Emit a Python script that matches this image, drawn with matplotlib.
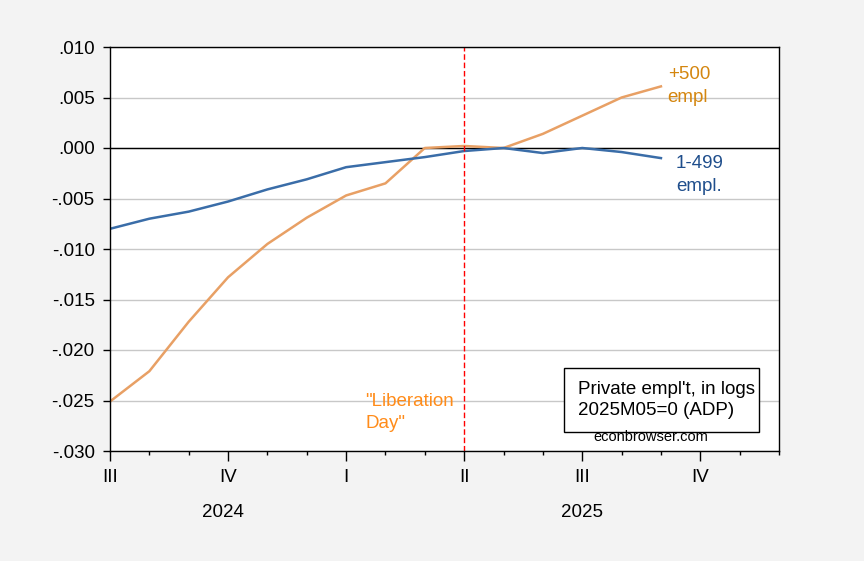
import numpy as np
import matplotlib
matplotlib.use("Agg")
from matplotlib import pyplot as plt
from matplotlib import transforms
from matplotlib.patches import Rectangle

plt.rcParams['font.family'] = ['Liberation Sans', 'DejaVu Sans']

# monthly, 2024M07 .. 2025M09, log employment relative to 2025M05
months = ['2024M07', '2024M08', '2024M09', '2024M10', '2024M11', '2024M12',
          '2025M01', '2025M02', '2025M03', '2025M04', '2025M05', '2025M06',
          '2025M07', '2025M08', '2025M09']
small = [-0.0080, -0.0070, -0.0063, -0.0053, -0.0041, -0.0031, -0.0019, -0.0014,
         -0.0009, -0.0003, 0.0000, -0.0005, 0.0000, -0.0004, -0.0010]
large = [-0.0251, -0.0221, -0.0172, -0.0128, -0.0095, -0.0069, -0.0047, -0.0035,
         0.0000, 0.0002, 0.0000, 0.0014, 0.0032, 0.0050, 0.0061]

quarter_labels = ['III', 'IV', 'I', 'II', 'III', 'IV']
year_labels = ['2024', '2025']
year_pos = [2.88, 12.0]   # month index under which the year label sits
liberation_day = 9        # 2025M04

x = np.arange(len(months))

fig = plt.figure(figsize=(8.64, 5.61), dpi=100, facecolor='#F3F3F3')
ax = fig.add_axes([110 / 864, 1 - 451 / 561, 669 / 864, 404 / 561])
ax.set_facecolor('white')

ax.plot(x, large, color='#E8A065', lw=1.8)
ax.plot(x, small, color='#3A6DA8', lw=1.8)
ax.axhline(0, color='black', lw=1.0, zorder=1.5)
ax.axvline(liberation_day, color='red', lw=1.0, ls=(0, (4, 2)))

ax.set_xlim(0, 17)
ax.set_ylim(-0.030, 0.010)
ax.set_yticks(np.arange(-0.030, 0.0101, 0.005))
ax.set_yticklabels([('%.3f' % v).replace('0.', '.') for v in np.arange(-0.030, 0.0101, 0.005)])
ax.yaxis.grid(True, color='#C8C8C8', lw=1.0)
ax.set_axisbelow(True)

ax.set_xticks(np.arange(0, 18, 3))
ax.set_xticklabels(quarter_labels)
ax.set_xticks(np.arange(0, 18), minor=True)
ax.tick_params(axis='x', which='major', direction='out', length=7, width=1, pad=6, labelsize=13.5)
ax.tick_params(axis='x', which='minor', direction='out', length=3, width=1)
ax.tick_params(axis='y', direction='out', length=5, width=1, pad=6, labelsize=13.5)
for s in ax.spines.values():
    s.set_linewidth(1.0)

trans = transforms.blended_transform_factory(ax.transData, ax.transAxes)
for lab, pos in zip(year_labels, year_pos):
    ax.text(pos, -0.151, lab, transform=trans, ha='center', va='center', fontsize=13.5)

ax.text(14.17, 0.0061, '+500\nempl', color='#D4860F', fontsize=13.5,
        ha='left', va='center', linespacing=1.45)
ax.text(14.38, -0.0027, '1-499\nempl.', color='#1F4E8C', fontsize=13.5,
        ha='left', va='center', linespacing=1.45)
ax.text(6.49, -0.0262, '"Liberation\nDay"', color='#FF8C1A', fontsize=13.5,
        ha='left', va='center', linespacing=1.4)

# note box
ax.add_patch(Rectangle((0.6786, 0.047), 0.2915, 0.158, transform=ax.transAxes,
                       fc='white', ec='black', lw=1.0, zorder=3))
ax.text(0.6995, 0.126, "Private empl't, in logs\n2025M05=0 (ADP)", transform=ax.transAxes,
        fontsize=13.5, ha='left', va='center', linespacing=1.35, zorder=4)
ax.text(0.809, 0.035, 'econbrowser.com', transform=ax.transAxes, fontsize=10.5,
        ha='center', va='center', zorder=4)

plt.savefig('out.png', dpi=100, facecolor=fig.get_facecolor())
